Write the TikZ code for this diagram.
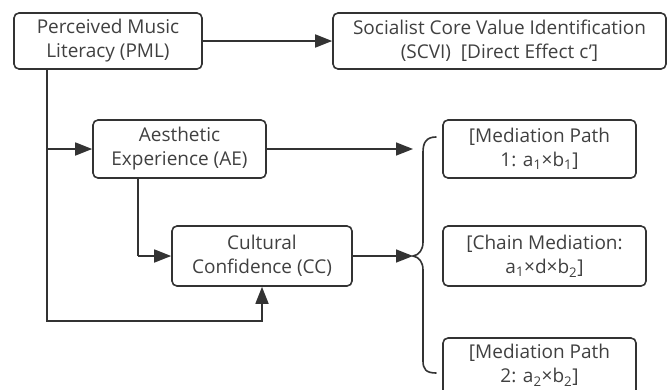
\documentclass[tikz,border=0pt]{standalone}
\usepackage{fontspec}
\setmainfont{Open Sans}
\usetikzlibrary{arrows.meta}
\tikzset{
  box/.style={draw=black!80, rounded corners=5pt, line width=1.6pt, align=center,
    inner sep=0pt, font=\fontsize{19}{24}\selectfont, text=black!75},
  link/.style={draw=black!80, line width=1.6pt},
  arr/.style={link, -{Triangle[length=17pt,width=13pt]}},
}
\begin{document}
\begin{tikzpicture}[x=1pt,y=-1pt]
            \clip (0,0) rectangle (668,389);
            \useasboundingbox (0,0) rectangle (668,389);
            \node[box, minimum width=188pt, minimum height=56pt] (PML) at (108,41) {Perceived Music\\Literacy (PML)};
            \node[box, minimum width=333pt, minimum height=56pt] (SCVI) at (499.5,41) {Socialist Core Value Identification\\(SCVI)\ \ [Direct Effect c']};
            \node[box, minimum width=173pt, minimum height=58pt] (AE) at (179.5,149) {Aesthetic\\Experience (AE)};
            \node[box, minimum width=180pt, minimum height=60pt] (CC) at (262,256) {Cultural\\Confidence (CC)};
            \node[box, minimum width=193pt, minimum height=58pt] (M1) at (539.5,149) {[Mediation Path\\1: a\textsubscript{1}×b\textsubscript{1}]};
            \node[box, minimum width=203pt, minimum height=60pt] (CH) at (544.5,256) {[Chain Mediation:\\a\textsubscript{1}×d×b\textsubscript{2}]};
            \node[box, minimum width=193pt, minimum height=62pt] (M2) at (539.5,369) {};
            \node[font=\fontsize{19}{24}\selectfont, text=black!75, align=center, inner sep=0pt] (M2t) at (539.5,365) {[Mediation Path\\2: a\textsubscript{2}×b\textsubscript{2}]};

            \coordinate (t1) at (47,149);
            \coordinate (t2) at (47,321);
            \coordinate (t3) at (138,256);
            \coordinate (b1) at (413,149);
            \coordinate (b2) at (413,256);

            \draw[arr] (PML) to (SCVI);
            \draw[arr] (PML.south -| t1) -- (t2) -| (CC.south);
            \draw[arr] (t1) -- (AE);
            \draw[link] (AE.south -| t3) -- (t3);
            \draw[arr] (t3) -- (CC);
            \draw[arr] (AE) -- (b1);
            \draw[arr] (CC) -- (b2);

            % brace
            \draw[link, line cap=round] (436,137) .. controls (426,137) and (423,143) .. (423,152)
              -- (423,242) .. controls (423,250) and (419,255) .. (413,256)
              .. controls (419,257) and (423,262) .. (423,270)
              -- (423,361) .. controls (423,369) and (426,373) .. (436,373);
        \end{tikzpicture}
\end{document}
